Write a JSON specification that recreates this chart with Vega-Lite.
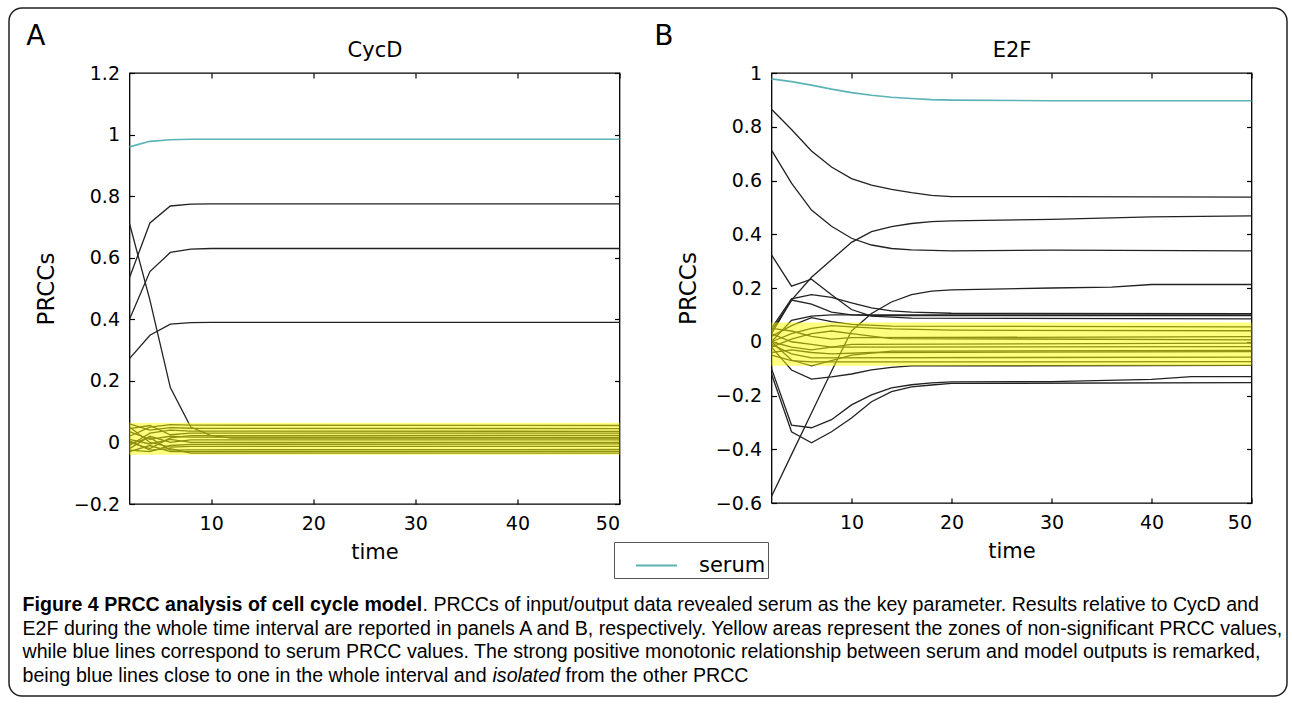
{
  "$schema": "https://vega.github.io/schema/vega-lite/v6.json",
  "padding": {"left": 8, "top": 7, "right": 0, "bottom": 0},
  "background": "white",
  "config": {
    "font": "DejaVu Sans",
    "view": {"stroke": "#000", "strokeWidth": 1.3},
    "axis": {"labelFont": "DejaVu Sans", "titleFont": "DejaVu Sans", "labelFontSize": 19, "titleFontSize": 21, "titleFontWeight": "normal", "labelColor": "#000", "titleColor": "#000", "tickColor": "#000", "tickWidth": 1.2, "domain": false, "grid": false, "tickSize": -5, "labelPadding": 15},
    "title": {"font": "DejaVu Sans", "fontSize": 28, "fontWeight": "normal", "anchor": "start", "frame": "bounds", "color": "#000", "offset": -11.5},
    "legend": {"orient": "none", "legendX": 605, "legendY": 534, "title": null, "strokeColor": "#555", "fillColor": "#fff", "padding": 2, "symbolType": "stroke", "symbolSize": 1681, "symbolStrokeWidth": 2, "symbolOffset": 19, "labelOffset": 21, "labelFont": "DejaVu Sans", "labelFontSize": 21, "labelColor": "#000"}
  },
  "datasets": {
    "curves": [
      {"panel": "A", "series": "serum", "time": 2, "prcc": 0.96},
      {"panel": "A", "series": "serum", "time": 4, "prcc": 0.978},
      {"panel": "A", "series": "serum", "time": 6, "prcc": 0.983},
      {"panel": "A", "series": "serum", "time": 8, "prcc": 0.985},
      {"panel": "A", "series": "serum", "time": 50, "prcc": 0.985},
      {"panel": "A", "series": "a1", "time": 2, "prcc": 0.535},
      {"panel": "A", "series": "a1", "time": 4, "prcc": 0.713},
      {"panel": "A", "series": "a1", "time": 6, "prcc": 0.768},
      {"panel": "A", "series": "a1", "time": 8, "prcc": 0.774},
      {"panel": "A", "series": "a1", "time": 10, "prcc": 0.775},
      {"panel": "A", "series": "a1", "time": 50, "prcc": 0.775},
      {"panel": "A", "series": "a2", "time": 2, "prcc": 0.40},
      {"panel": "A", "series": "a2", "time": 4, "prcc": 0.555},
      {"panel": "A", "series": "a2", "time": 6, "prcc": 0.617},
      {"panel": "A", "series": "a2", "time": 8, "prcc": 0.628},
      {"panel": "A", "series": "a2", "time": 10, "prcc": 0.63},
      {"panel": "A", "series": "a2", "time": 50, "prcc": 0.63},
      {"panel": "A", "series": "a3", "time": 2, "prcc": 0.272},
      {"panel": "A", "series": "a3", "time": 4, "prcc": 0.348},
      {"panel": "A", "series": "a3", "time": 6, "prcc": 0.384},
      {"panel": "A", "series": "a3", "time": 8, "prcc": 0.389},
      {"panel": "A", "series": "a3", "time": 10, "prcc": 0.39},
      {"panel": "A", "series": "a3", "time": 50, "prcc": 0.39},
      {"panel": "A", "series": "a4", "time": 2, "prcc": 0.711},
      {"panel": "A", "series": "a4", "time": 4, "prcc": 0.462},
      {"panel": "A", "series": "a4", "time": 6, "prcc": 0.178},
      {"panel": "A", "series": "a4", "time": 8, "prcc": 0.05},
      {"panel": "A", "series": "a4", "time": 10, "prcc": 0.022},
      {"panel": "A", "series": "a4", "time": 12, "prcc": 0.014},
      {"panel": "A", "series": "a4", "time": 50, "prcc": 0.014},
      {"panel": "A", "series": "b1", "time": 2, "prcc": 0.02},
      {"panel": "A", "series": "b1", "time": 4, "prcc": 0.05},
      {"panel": "A", "series": "b1", "time": 6, "prcc": 0.058},
      {"panel": "A", "series": "b1", "time": 8, "prcc": 0.056},
      {"panel": "A", "series": "b1", "time": 50, "prcc": 0.055},
      {"panel": "A", "series": "b2", "time": 2, "prcc": 0.06},
      {"panel": "A", "series": "b2", "time": 4, "prcc": 0.04},
      {"panel": "A", "series": "b2", "time": 6, "prcc": 0.048},
      {"panel": "A", "series": "b2", "time": 8, "prcc": 0.046},
      {"panel": "A", "series": "b2", "time": 50, "prcc": 0.045},
      {"panel": "A", "series": "b3", "time": 2, "prcc": -0.01},
      {"panel": "A", "series": "b3", "time": 4, "prcc": 0.03},
      {"panel": "A", "series": "b3", "time": 6, "prcc": 0.04},
      {"panel": "A", "series": "b3", "time": 8, "prcc": 0.037},
      {"panel": "A", "series": "b3", "time": 50, "prcc": 0.036},
      {"panel": "A", "series": "b4", "time": 2, "prcc": 0.045},
      {"panel": "A", "series": "b4", "time": 4, "prcc": 0.055},
      {"panel": "A", "series": "b4", "time": 6, "prcc": 0.025},
      {"panel": "A", "series": "b4", "time": 8, "prcc": 0.03},
      {"panel": "A", "series": "b4", "time": 50, "prcc": 0.03},
      {"panel": "A", "series": "b5", "time": 2, "prcc": 0.0},
      {"panel": "A", "series": "b5", "time": 4, "prcc": -0.02},
      {"panel": "A", "series": "b5", "time": 6, "prcc": 0.015},
      {"panel": "A", "series": "b5", "time": 8, "prcc": 0.022},
      {"panel": "A", "series": "b5", "time": 50, "prcc": 0.023},
      {"panel": "A", "series": "b6", "time": 2, "prcc": 0.035},
      {"panel": "A", "series": "b6", "time": 4, "prcc": 0.01},
      {"panel": "A", "series": "b6", "time": 6, "prcc": 0.02},
      {"panel": "A", "series": "b6", "time": 8, "prcc": 0.017},
      {"panel": "A", "series": "b6", "time": 50, "prcc": 0.016},
      {"panel": "A", "series": "b7", "time": 2, "prcc": -0.02},
      {"panel": "A", "series": "b7", "time": 4, "prcc": 0.02},
      {"panel": "A", "series": "b7", "time": 6, "prcc": 0.0},
      {"panel": "A", "series": "b7", "time": 8, "prcc": 0.008},
      {"panel": "A", "series": "b7", "time": 50, "prcc": 0.008},
      {"panel": "A", "series": "b8", "time": 2, "prcc": 0.01},
      {"panel": "A", "series": "b8", "time": 4, "prcc": -0.005},
      {"panel": "A", "series": "b8", "time": 6, "prcc": 0.01},
      {"panel": "A", "series": "b8", "time": 8, "prcc": 0.0},
      {"panel": "A", "series": "b8", "time": 50, "prcc": 0.0},
      {"panel": "A", "series": "b9", "time": 2, "prcc": -0.025},
      {"panel": "A", "series": "b9", "time": 4, "prcc": -0.03},
      {"panel": "A", "series": "b9", "time": 6, "prcc": -0.01},
      {"panel": "A", "series": "b9", "time": 8, "prcc": -0.006},
      {"panel": "A", "series": "b9", "time": 50, "prcc": -0.005},
      {"panel": "A", "series": "b10", "time": 2, "prcc": 0.05},
      {"panel": "A", "series": "b10", "time": 4, "prcc": 0.0},
      {"panel": "A", "series": "b10", "time": 6, "prcc": -0.015},
      {"panel": "A", "series": "b10", "time": 8, "prcc": -0.013},
      {"panel": "A", "series": "b10", "time": 50, "prcc": -0.013},
      {"panel": "A", "series": "b11", "time": 2, "prcc": -0.005},
      {"panel": "A", "series": "b11", "time": 4, "prcc": 0.015},
      {"panel": "A", "series": "b11", "time": 6, "prcc": -0.025},
      {"panel": "A", "series": "b11", "time": 8, "prcc": -0.024},
      {"panel": "A", "series": "b11", "time": 50, "prcc": -0.023},
      {"panel": "A", "series": "b12", "time": 2, "prcc": -0.03},
      {"panel": "A", "series": "b12", "time": 4, "prcc": -0.01},
      {"panel": "A", "series": "b12", "time": 6, "prcc": -0.03},
      {"panel": "A", "series": "b12", "time": 8, "prcc": -0.03},
      {"panel": "A", "series": "b12", "time": 50, "prcc": -0.029},
      {"panel": "A", "series": "b13", "time": 2, "prcc": 0.005},
      {"panel": "A", "series": "b13", "time": 4, "prcc": -0.025},
      {"panel": "A", "series": "b13", "time": 6, "prcc": -0.02},
      {"panel": "A", "series": "b13", "time": 8, "prcc": -0.035},
      {"panel": "A", "series": "b13", "time": 50, "prcc": -0.035},

      {"panel": "B", "series": "serum", "time": 2, "prcc": 0.978},
      {"panel": "B", "series": "serum", "time": 4, "prcc": 0.968},
      {"panel": "B", "series": "serum", "time": 6, "prcc": 0.955},
      {"panel": "B", "series": "serum", "time": 8, "prcc": 0.94},
      {"panel": "B", "series": "serum", "time": 10, "prcc": 0.927},
      {"panel": "B", "series": "serum", "time": 12, "prcc": 0.917},
      {"panel": "B", "series": "serum", "time": 14, "prcc": 0.91},
      {"panel": "B", "series": "serum", "time": 16, "prcc": 0.905},
      {"panel": "B", "series": "serum", "time": 18, "prcc": 0.901},
      {"panel": "B", "series": "serum", "time": 20, "prcc": 0.899},
      {"panel": "B", "series": "serum", "time": 30, "prcc": 0.897},
      {"panel": "B", "series": "serum", "time": 50, "prcc": 0.897},
      {"panel": "B", "series": "c1", "time": 2, "prcc": 0.865},
      {"panel": "B", "series": "c1", "time": 4, "prcc": 0.79},
      {"panel": "B", "series": "c1", "time": 6, "prcc": 0.71},
      {"panel": "B", "series": "c1", "time": 8, "prcc": 0.65},
      {"panel": "B", "series": "c1", "time": 10, "prcc": 0.607},
      {"panel": "B", "series": "c1", "time": 12, "prcc": 0.583},
      {"panel": "B", "series": "c1", "time": 14, "prcc": 0.567},
      {"panel": "B", "series": "c1", "time": 16, "prcc": 0.555},
      {"panel": "B", "series": "c1", "time": 18, "prcc": 0.545},
      {"panel": "B", "series": "c1", "time": 20, "prcc": 0.54},
      {"panel": "B", "series": "c1", "time": 30, "prcc": 0.54},
      {"panel": "B", "series": "c1", "time": 50, "prcc": 0.538},
      {"panel": "B", "series": "c2", "time": 2, "prcc": 0.713},
      {"panel": "B", "series": "c2", "time": 4, "prcc": 0.59},
      {"panel": "B", "series": "c2", "time": 6, "prcc": 0.49},
      {"panel": "B", "series": "c2", "time": 8, "prcc": 0.43},
      {"panel": "B", "series": "c2", "time": 10, "prcc": 0.385},
      {"panel": "B", "series": "c2", "time": 12, "prcc": 0.36},
      {"panel": "B", "series": "c2", "time": 14, "prcc": 0.347},
      {"panel": "B", "series": "c2", "time": 16, "prcc": 0.342},
      {"panel": "B", "series": "c2", "time": 20, "prcc": 0.338},
      {"panel": "B", "series": "c2", "time": 30, "prcc": 0.341},
      {"panel": "B", "series": "c2", "time": 50, "prcc": 0.338},
      {"panel": "B", "series": "c3", "time": 2, "prcc": -0.576},
      {"panel": "B", "series": "c3", "time": 4, "prcc": -0.42},
      {"panel": "B", "series": "c3", "time": 6, "prcc": -0.265},
      {"panel": "B", "series": "c3", "time": 8, "prcc": -0.11},
      {"panel": "B", "series": "c3", "time": 10, "prcc": 0.04},
      {"panel": "B", "series": "c3", "time": 12, "prcc": 0.105},
      {"panel": "B", "series": "c3", "time": 14, "prcc": 0.148},
      {"panel": "B", "series": "c3", "time": 16, "prcc": 0.175},
      {"panel": "B", "series": "c3", "time": 18, "prcc": 0.188},
      {"panel": "B", "series": "c3", "time": 20, "prcc": 0.193},
      {"panel": "B", "series": "c3", "time": 30, "prcc": 0.2},
      {"panel": "B", "series": "c3", "time": 36, "prcc": 0.203},
      {"panel": "B", "series": "c3", "time": 40, "prcc": 0.213},
      {"panel": "B", "series": "c3", "time": 50, "prcc": 0.213},
      {"panel": "B", "series": "c12", "time": 2, "prcc": 0.04},
      {"panel": "B", "series": "c12", "time": 4, "prcc": 0.155},
      {"panel": "B", "series": "c12", "time": 6, "prcc": 0.24},
      {"panel": "B", "series": "c12", "time": 8, "prcc": 0.305},
      {"panel": "B", "series": "c12", "time": 10, "prcc": 0.37},
      {"panel": "B", "series": "c12", "time": 12, "prcc": 0.41},
      {"panel": "B", "series": "c12", "time": 14, "prcc": 0.428},
      {"panel": "B", "series": "c12", "time": 16, "prcc": 0.44},
      {"panel": "B", "series": "c12", "time": 18, "prcc": 0.447},
      {"panel": "B", "series": "c12", "time": 20, "prcc": 0.45},
      {"panel": "B", "series": "c12", "time": 30, "prcc": 0.455},
      {"panel": "B", "series": "c12", "time": 40, "prcc": 0.465},
      {"panel": "B", "series": "c12", "time": 50, "prcc": 0.468},
      {"panel": "B", "series": "c4", "time": 2, "prcc": 0.323},
      {"panel": "B", "series": "c4", "time": 4, "prcc": 0.207},
      {"panel": "B", "series": "c4", "time": 6, "prcc": 0.233},
      {"panel": "B", "series": "c4", "time": 8, "prcc": 0.175},
      {"panel": "B", "series": "c4", "time": 10, "prcc": 0.12},
      {"panel": "B", "series": "c4", "time": 12, "prcc": 0.095},
      {"panel": "B", "series": "c4", "time": 16, "prcc": 0.088},
      {"panel": "B", "series": "c4", "time": 50, "prcc": 0.085},
      {"panel": "B", "series": "c5", "time": 2, "prcc": 0.0},
      {"panel": "B", "series": "c5", "time": 4, "prcc": -0.068},
      {"panel": "B", "series": "c5", "time": 6, "prcc": -0.09},
      {"panel": "B", "series": "c5", "time": 8, "prcc": -0.07},
      {"panel": "B", "series": "c5", "time": 10, "prcc": -0.05},
      {"panel": "B", "series": "c5", "time": 14, "prcc": -0.035},
      {"panel": "B", "series": "c5", "time": 50, "prcc": -0.032},
      {"panel": "B", "series": "c6", "time": 2, "prcc": 0.05},
      {"panel": "B", "series": "c6", "time": 4, "prcc": 0.16},
      {"panel": "B", "series": "c6", "time": 6, "prcc": 0.175},
      {"panel": "B", "series": "c6", "time": 8, "prcc": 0.165},
      {"panel": "B", "series": "c6", "time": 10, "prcc": 0.145},
      {"panel": "B", "series": "c6", "time": 12, "prcc": 0.126},
      {"panel": "B", "series": "c6", "time": 14, "prcc": 0.115},
      {"panel": "B", "series": "c6", "time": 16, "prcc": 0.11},
      {"panel": "B", "series": "c6", "time": 20, "prcc": 0.106},
      {"panel": "B", "series": "c6", "time": 50, "prcc": 0.105},
      {"panel": "B", "series": "c7", "time": 2, "prcc": 0.03},
      {"panel": "B", "series": "c7", "time": 4, "prcc": 0.155},
      {"panel": "B", "series": "c7", "time": 6, "prcc": 0.14},
      {"panel": "B", "series": "c7", "time": 8, "prcc": 0.11},
      {"panel": "B", "series": "c7", "time": 10, "prcc": 0.1},
      {"panel": "B", "series": "c7", "time": 12, "prcc": 0.097},
      {"panel": "B", "series": "c7", "time": 50, "prcc": 0.097},
      {"panel": "B", "series": "c8", "time": 2, "prcc": 0.0},
      {"panel": "B", "series": "c8", "time": 4, "prcc": 0.08},
      {"panel": "B", "series": "c8", "time": 6, "prcc": 0.095},
      {"panel": "B", "series": "c8", "time": 8, "prcc": 0.1},
      {"panel": "B", "series": "c8", "time": 50, "prcc": 0.1},
      {"panel": "B", "series": "c9", "time": 2, "prcc": -0.02},
      {"panel": "B", "series": "c9", "time": 4, "prcc": -0.105},
      {"panel": "B", "series": "c9", "time": 6, "prcc": -0.139},
      {"panel": "B", "series": "c9", "time": 8, "prcc": -0.131},
      {"panel": "B", "series": "c9", "time": 10, "prcc": -0.12},
      {"panel": "B", "series": "c9", "time": 12, "prcc": -0.105},
      {"panel": "B", "series": "c9", "time": 14, "prcc": -0.095},
      {"panel": "B", "series": "c9", "time": 16, "prcc": -0.09},
      {"panel": "B", "series": "c9", "time": 50, "prcc": -0.088},
      {"panel": "B", "series": "c10", "time": 2, "prcc": -0.1},
      {"panel": "B", "series": "c10", "time": 4, "prcc": -0.31},
      {"panel": "B", "series": "c10", "time": 6, "prcc": -0.32},
      {"panel": "B", "series": "c10", "time": 8, "prcc": -0.29},
      {"panel": "B", "series": "c10", "time": 10, "prcc": -0.235},
      {"panel": "B", "series": "c10", "time": 12, "prcc": -0.198},
      {"panel": "B", "series": "c10", "time": 14, "prcc": -0.172},
      {"panel": "B", "series": "c10", "time": 16, "prcc": -0.16},
      {"panel": "B", "series": "c10", "time": 18, "prcc": -0.153},
      {"panel": "B", "series": "c10", "time": 20, "prcc": -0.149},
      {"panel": "B", "series": "c10", "time": 30, "prcc": -0.148},
      {"panel": "B", "series": "c10", "time": 40, "prcc": -0.14},
      {"panel": "B", "series": "c10", "time": 44, "prcc": -0.13},
      {"panel": "B", "series": "c10", "time": 50, "prcc": -0.13},
      {"panel": "B", "series": "c11", "time": 2, "prcc": -0.12},
      {"panel": "B", "series": "c11", "time": 4, "prcc": -0.335},
      {"panel": "B", "series": "c11", "time": 6, "prcc": -0.376},
      {"panel": "B", "series": "c11", "time": 8, "prcc": -0.335},
      {"panel": "B", "series": "c11", "time": 10, "prcc": -0.284},
      {"panel": "B", "series": "c11", "time": 12, "prcc": -0.223},
      {"panel": "B", "series": "c11", "time": 14, "prcc": -0.186},
      {"panel": "B", "series": "c11", "time": 16, "prcc": -0.168},
      {"panel": "B", "series": "c11", "time": 18, "prcc": -0.161},
      {"panel": "B", "series": "c11", "time": 20, "prcc": -0.155},
      {"panel": "B", "series": "c11", "time": 50, "prcc": -0.152},
      {"panel": "B", "series": "d1", "time": 2, "prcc": 0.02},
      {"panel": "B", "series": "d1", "time": 4, "prcc": 0.06},
      {"panel": "B", "series": "d1", "time": 6, "prcc": 0.09},
      {"panel": "B", "series": "d1", "time": 8, "prcc": 0.075},
      {"panel": "B", "series": "d1", "time": 10, "prcc": 0.065},
      {"panel": "B", "series": "d1", "time": 14, "prcc": 0.058},
      {"panel": "B", "series": "d1", "time": 50, "prcc": 0.055},
      {"panel": "B", "series": "d2", "time": 2, "prcc": 0.0},
      {"panel": "B", "series": "d2", "time": 4, "prcc": 0.03},
      {"panel": "B", "series": "d2", "time": 6, "prcc": 0.05},
      {"panel": "B", "series": "d2", "time": 8, "prcc": 0.06},
      {"panel": "B", "series": "d2", "time": 10, "prcc": 0.055},
      {"panel": "B", "series": "d2", "time": 14, "prcc": 0.048},
      {"panel": "B", "series": "d2", "time": 20, "prcc": 0.043},
      {"panel": "B", "series": "d2", "time": 50, "prcc": 0.041},
      {"panel": "B", "series": "d3", "time": 2, "prcc": 0.05},
      {"panel": "B", "series": "d3", "time": 4, "prcc": 0.04},
      {"panel": "B", "series": "d3", "time": 6, "prcc": 0.02},
      {"panel": "B", "series": "d3", "time": 8, "prcc": 0.01},
      {"panel": "B", "series": "d3", "time": 10, "prcc": 0.015},
      {"panel": "B", "series": "d3", "time": 50, "prcc": 0.019},
      {"panel": "B", "series": "d4", "time": 2, "prcc": -0.02},
      {"panel": "B", "series": "d4", "time": 4, "prcc": 0.01},
      {"panel": "B", "series": "d4", "time": 6, "prcc": 0.03},
      {"panel": "B", "series": "d4", "time": 8, "prcc": 0.04},
      {"panel": "B", "series": "d4", "time": 10, "prcc": 0.03},
      {"panel": "B", "series": "d4", "time": 14, "prcc": 0.012},
      {"panel": "B", "series": "d4", "time": 50, "prcc": 0.007},
      {"panel": "B", "series": "d5", "time": 2, "prcc": 0.0},
      {"panel": "B", "series": "d5", "time": 4, "prcc": -0.02},
      {"panel": "B", "series": "d5", "time": 6, "prcc": -0.03},
      {"panel": "B", "series": "d5", "time": 8, "prcc": -0.02},
      {"panel": "B", "series": "d5", "time": 10, "prcc": -0.01},
      {"panel": "B", "series": "d5", "time": 50, "prcc": -0.005},
      {"panel": "B", "series": "d6", "time": 2, "prcc": 0.03},
      {"panel": "B", "series": "d6", "time": 4, "prcc": 0.0},
      {"panel": "B", "series": "d6", "time": 6, "prcc": -0.01},
      {"panel": "B", "series": "d6", "time": 8, "prcc": -0.02},
      {"panel": "B", "series": "d6", "time": 50, "prcc": -0.018},
      {"panel": "B", "series": "d7", "time": 2, "prcc": -0.04},
      {"panel": "B", "series": "d7", "time": 4, "prcc": -0.03},
      {"panel": "B", "series": "d7", "time": 6, "prcc": -0.04},
      {"panel": "B", "series": "d7", "time": 8, "prcc": -0.045},
      {"panel": "B", "series": "d7", "time": 12, "prcc": -0.04},
      {"panel": "B", "series": "d7", "time": 50, "prcc": -0.037},
      {"panel": "B", "series": "d8", "time": 2, "prcc": -0.01},
      {"panel": "B", "series": "d8", "time": 4, "prcc": -0.045},
      {"panel": "B", "series": "d8", "time": 6, "prcc": -0.06},
      {"panel": "B", "series": "d8", "time": 50, "prcc": -0.057},
      {"panel": "B", "series": "d9", "time": 2, "prcc": -0.05},
      {"panel": "B", "series": "d9", "time": 4, "prcc": -0.07},
      {"panel": "B", "series": "d9", "time": 6, "prcc": -0.075},
      {"panel": "B", "series": "d9", "time": 50, "prcc": -0.074}
    ],
    "bands": [
      {"panel": "A", "tmin": 2, "tmax": 50, "lo": -0.04, "hi": 0.064},
      {"panel": "B", "tmin": 2, "tmax": 50, "lo": -0.089, "hi": 0.072}
    ],
    "caption": [
      {"line": 1, "part": "bold", "text": "Figure 4 PRCC analysis of cell cycle model"},
      {"line": 1, "part": "lead", "text": ". PRCCs of input/output data revealed serum as the key parameter. Results relative to CycD and"},
      {"line": 2, "part": "plain", "text": "E2F during the whole time interval are reported in panels A and B, respectively. Yellow areas represent the zones of non-significant PRCC values,"},
      {"line": 3, "part": "plain", "text": "while blue lines correspond to serum PRCC values. The strong positive monotonic relationship between serum and model outputs is remarked,"},
      {"line": 4, "part": "plain", "text": "being blue lines close to one in the whole interval and"},
      {"line": 4, "part": "italic", "text": "isolated"},
      {"line": 4, "part": "tail", "text": "from the other PRCC"}
    ]
  },
  "hconcat": [
    {
      "width": 1278,
      "height": 688,
      "view": {"stroke": "#222", "strokeWidth": 1.5, "cornerRadius": 13, "fill": null},
      "data": {"values": []},
      "mark": "point"
    },
    {
      "vconcat": [
        {
          "width": 1,
          "height": 1,
          "view": {"stroke": null, "fill": null},
          "data": {"values": []},
          "mark": "point"
        },
        {
          "vconcat": [
            {
              "hconcat": [
                {
                  "width": 490,
                  "height": 431,
                  "title": {"text": "A", "dx": -9},
                  "layer": [
                    {
                      "data": {"name": "curves"},
                      "transform": [{"filter": "datum.panel == 'A' && datum.series != 'serum'"}],
                      "mark": {"type": "line", "color": "#222", "strokeWidth": 1.3},
                      "encoding": {
                        "x": {"field": "time", "type": "quantitative", "scale": {"domain": [2, 50], "nice": false, "zero": false}, "axis": {"orient": "bottom", "values": [10, 20, 30, 40, 50], "title": "time", "titlePadding": 8}},
                        "y": {"field": "prcc", "type": "quantitative", "scale": {"domain": [-0.2, 1.2], "nice": false, "zero": false}, "axis": {"orient": "left", "values": [-0.2, 0, 0.2, 0.4, 0.6, 0.8, 1, 1.2], "format": ".1~f", "title": "PRCCs", "titleFontSize": 23, "titlePadding": 15}},
                        "detail": {"field": "series", "type": "nominal"}
                      }
                    },
                    {
                      "data": {"name": "curves"},
                      "transform": [{"filter": "datum.panel == 'A' && datum.series == 'serum'"}],
                      "mark": {"type": "line", "strokeWidth": 1.6},
                      "encoding": {
                        "x": {"field": "time", "type": "quantitative", "scale": {"domain": [2, 50], "nice": false, "zero": false}, "axis": {"orient": "top", "values": [10, 20, 30, 40, 50], "labels": false, "title": "CycD", "titlePadding": 12}},
                        "y": {"field": "prcc", "type": "quantitative", "scale": {"domain": [-0.2, 1.2], "nice": false, "zero": false}, "axis": {"orient": "right", "values": [-0.2, 0, 0.2, 0.4, 0.6, 0.8, 1, 1.2], "labels": false, "title": null}},
                        "color": {"field": "series", "type": "nominal", "scale": {"domain": ["serum"], "range": ["#5bb3b5"]}, "legend": {"labelExpr": "datum.label + '\u00a0\u00a0\u00a0'"}}
                      }
                    },
                    {
                      "data": {"name": "bands"},
                      "transform": [{"filter": "datum.panel == 'A'"}],
                      "mark": {"type": "rect", "color": "#ffff00", "opacity": 0.5},
                      "encoding": {
                        "x": {"field": "tmin", "type": "quantitative", "scale": {"domain": [2, 50], "nice": false, "zero": false}, "axis": null},
                        "x2": {"field": "tmax"},
                        "y": {"field": "lo", "type": "quantitative", "scale": {"domain": [-0.2, 1.2], "nice": false, "zero": false}, "axis": null},
                        "y2": {"field": "hi"}
                      }
                    }
                  ],
                  "resolve": {"axis": {"x": "independent", "y": "independent"}}
                },
                {
                  "width": 480,
                  "height": 430,
                  "title": {"text": "B", "dx": -23},
                  "layer": [
                    {
                      "data": {"name": "curves"},
                      "transform": [{"filter": "datum.panel == 'B' && datum.series != 'serum'"}],
                      "mark": {"type": "line", "color": "#222", "strokeWidth": 1.3},
                      "encoding": {
                        "x": {"field": "time", "type": "quantitative", "scale": {"domain": [2, 50], "nice": false, "zero": false}, "axis": {"orient": "bottom", "values": [10, 20, 30, 40, 50], "title": "time", "titlePadding": 8}},
                        "y": {"field": "prcc", "type": "quantitative", "scale": {"domain": [-0.6, 1], "nice": false, "zero": false}, "axis": {"orient": "left", "values": [-0.6, -0.4, -0.2, 0, 0.2, 0.4, 0.6, 0.8, 1], "format": ".1~f", "title": "PRCCs", "titleFontSize": 23, "titlePadding": 15}},
                        "detail": {"field": "series", "type": "nominal"}
                      }
                    },
                    {
                      "data": {"name": "curves"},
                      "transform": [{"filter": "datum.panel == 'B' && datum.series == 'serum'"}],
                      "mark": {"type": "line", "strokeWidth": 1.6},
                      "encoding": {
                        "x": {"field": "time", "type": "quantitative", "scale": {"domain": [2, 50], "nice": false, "zero": false}, "axis": {"orient": "top", "values": [10, 20, 30, 40, 50], "labels": false, "title": "E2F", "titlePadding": 12}},
                        "y": {"field": "prcc", "type": "quantitative", "scale": {"domain": [-0.6, 1], "nice": false, "zero": false}, "axis": {"orient": "right", "values": [-0.6, -0.4, -0.2, 0, 0.2, 0.4, 0.6, 0.8, 1], "labels": false, "title": null}},
                        "color": {"field": "series", "type": "nominal", "scale": {"domain": ["serum"], "range": ["#5bb3b5"]}, "legend": {"labelExpr": "datum.label + '\u00a0\u00a0\u00a0'"}}
                      }
                    },
                    {
                      "data": {"name": "bands"},
                      "transform": [{"filter": "datum.panel == 'B'"}],
                      "mark": {"type": "rect", "color": "#ffff00", "opacity": 0.5},
                      "encoding": {
                        "x": {"field": "tmin", "type": "quantitative", "scale": {"domain": [2, 50], "nice": false, "zero": false}, "axis": null},
                        "x2": {"field": "tmax"},
                        "y": {"field": "lo", "type": "quantitative", "scale": {"domain": [-0.6, 1], "nice": false, "zero": false}, "axis": null},
                        "y2": {"field": "hi"}
                      }
                    }
                  ],
                  "resolve": {"axis": {"x": "independent", "y": "independent"}}
                }
              ],
              "spacing": 30
            },
            {
              "width": 1150,
              "height": 71,
              "view": {"stroke": null},
              "data": {"name": "caption"},
              "encoding": {
                "y": {"field": "line", "type": "ordinal", "scale": {"type": "point", "padding": 0}, "axis": null},
                "x": {"value": 0},
                "text": {"field": "text"}
              },
              "layer": [
                {"transform": [{"filter": "datum.part == 'bold'"}], "mark": {"type": "text", "align": "left", "baseline": "middle", "font": "Liberation Sans", "fontWeight": "bold", "fontSize": 19.6, "dx": -107, "color": "#000"}},
                {"transform": [{"filter": "datum.part == 'lead'"}], "mark": {"type": "text", "align": "left", "baseline": "middle", "font": "Liberation Sans", "fontSize": 19.6, "dx": 293, "color": "#000"}},
                {"transform": [{"filter": "datum.part == 'plain'"}], "mark": {"type": "text", "align": "left", "baseline": "middle", "font": "Liberation Sans", "fontSize": 19.6, "dx": -107, "color": "#000"}},
                {"transform": [{"filter": "datum.part == 'italic'"}], "mark": {"type": "text", "align": "left", "baseline": "middle", "font": "Liberation Sans", "fontStyle": "italic", "fontSize": 19.6, "dx": 363, "color": "#000"}},
                {"transform": [{"filter": "datum.part == 'tail'"}], "mark": {"type": "text", "align": "left", "baseline": "middle", "font": "Liberation Sans", "fontSize": 19.6, "dx": 436, "color": "#000"}}
              ]
            }
          ],
          "spacing": 32
        }
      ],
      "spacing": 13
    }
  ],
  "spacing": -1265.5,
  "align": "none",
  "center": true
}
